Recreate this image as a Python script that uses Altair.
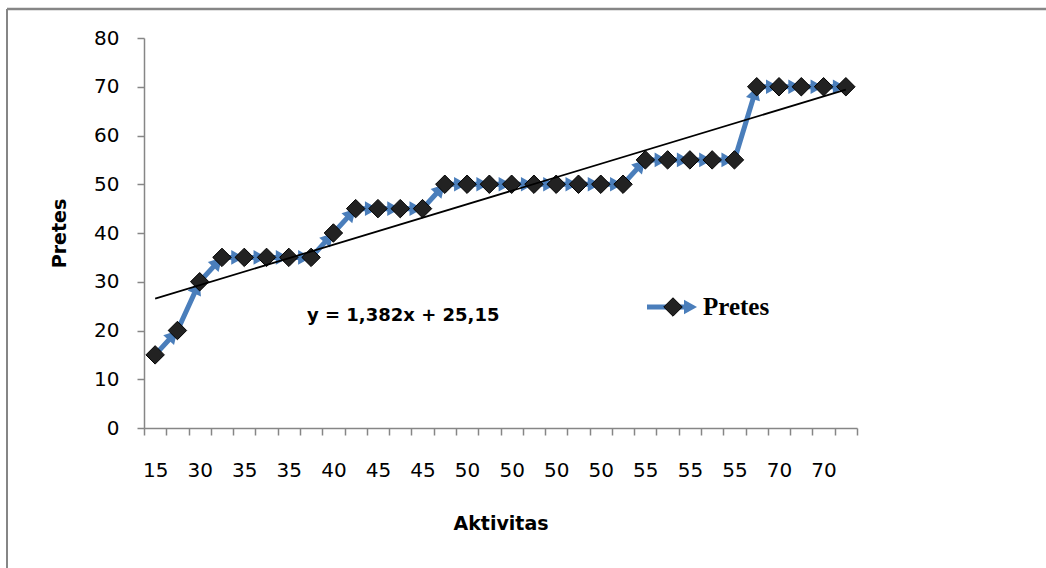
import json
import altair as alt
import pandas as pd

# ---- data ----
activity_index = list(range(1, 33))
pretes_values = [15, 20, 30, 35, 35, 35, 35, 35, 40, 45, 45, 45, 45, 50, 50, 50,
                 50, 50, 50, 50, 50, 50, 55, 55, 55, 55, 55, 70, 70, 70, 70, 70]
aktivitas_labels = ["15", "20", "30", "35", "35", "35", "35", "35", "40", "45", "45",
                    "45", "45", "50", "50", "50", "50", "50", "50", "50", "50", "50",
                    "55", "55", "55", "55", "55", "70", "70", "70", "70", "70"]
y_ticks = [0, 10, 20, 30, 40, 50, 60, 70, 80]
series_name = "Pretes"
equation_text = "y = 1,382x + 25,15"
x_title = "Aktivitas"
y_title = "Pretes"

# ---- layout / style ----
W, H = 713, 390
BLUE = "#4a7ebb"
GRAY = "#868686"
FONT = "DejaVu Sans"
ARROW = "M0,0 L-1,-0.56 L-1,0.56 Z"
ARROW_SIZE = 676      # custom path scaled by sqrt(size)/2 -> 13 px long
DIAMOND_SIZE = 340

df = pd.DataFrame({"idx": activity_index, "value": pretes_values})

n = len(activity_index)
x_scale = alt.Scale(domain=[0.5, n + 0.5], nice=False, zero=False)
y_scale = alt.Scale(domain=[y_ticks[0], y_ticks[-1]], nice=False)

tick_vals = [i / 2 for i in range(1, 2 * n + 2)]
labels_js = json.dumps(aktivitas_labels)

x_axis = alt.Axis(
    values=tick_vals, tickCount=500,
    labelExpr=f"(datum.value % 2 === 1) ? {labels_js}[datum.value - 1] : ''",
    tickOpacity={"condition": {"test": "datum.value % 1 === 0", "value": 0}, "value": 1},
    title=x_title, titleX=W / 2, titleY=101, titleBaseline="alphabetic",
    titleFont=FONT, titleFontSize=19, titleFontWeight="bold", titleColor="black",
    labelFont=FONT, labelFontSize=20, labelColor="black", labelPadding=25,
    labelOverlap=False, labelFlush=False, labelBound=False,
    domainColor=GRAY, domainWidth=1.5, tickColor=GRAY, tickWidth=1.5, tickSize=7,
    grid=False,
)
y_axis = alt.Axis(
    values=y_ticks,
    title=y_title, titleX=-79, titleY=H / 2, titleAngle=270, titleBaseline="alphabetic",
    titleAlign="center",
    titleFont=FONT, titleFontSize=19, titleFontWeight="bold", titleColor="black",
    labelFont=FONT, labelFontSize=20, labelColor="black", labelPadding=18,
    domainColor=GRAY, domainWidth=1.5, tickColor=GRAY, tickWidth=1.5, tickSize=7,
    grid=False,
)

base = alt.Chart(df)

line = base.mark_line(color=BLUE, strokeWidth=5).encode(
    x=alt.X("idx:Q", scale=x_scale, axis=x_axis),
    y=alt.Y("value:Q", scale=y_scale, axis=y_axis),
)

px_x = W / n
px_y = H / (y_ticks[-1] - y_ticks[0])
arrows = base.transform_window(
    window=[alt.WindowFieldDef(op="lag", field="value", **{"as": "prev"})],
    sort=[alt.SortField("idx")],
).transform_filter("datum.prev != null").transform_calculate(
    ang=f"(360 - atan2((datum.value - datum.prev) * {px_y}, {px_x}) * 180 / PI) % 360"
).mark_point(
    shape=ARROW, filled=True, color=BLUE, opacity=1, size=ARROW_SIZE
).encode(
    x=alt.X("idx:Q", scale=x_scale),
    y=alt.Y("value:Q", scale=y_scale),
    angle=alt.Angle("ang:Q", scale=None),
)

points = base.mark_point(
    shape="diamond", filled=True, fill="#222222", stroke="black", strokeWidth=1,
    opacity=1, size=DIAMOND_SIZE
).encode(
    x=alt.X("idx:Q", scale=x_scale),
    y=alt.Y("value:Q", scale=y_scale),
)

trend = base.transform_regression("idx", "value").mark_line(
    color="black", strokeWidth=1.8
).encode(
    x=alt.X("idx:Q", scale=x_scale),
    y=alt.Y("value:Q", scale=y_scale),
)

one = alt.Chart(pd.DataFrame({"eq": [equation_text], "name": [series_name]}))

eq_text = one.mark_text(
    align="left", baseline="alphabetic", font=FONT, fontSize=18, fontWeight="bold",
    color="black"
).encode(x=alt.value(163), y=alt.value(283), text="eq:N")

leg_line = one.mark_rule(color=BLUE, strokeWidth=5).encode(
    x=alt.value(503), x2=alt.value(546), y=alt.value(269)
)
leg_arrow = one.mark_point(
    shape=ARROW, filled=True, color=BLUE, opacity=1, size=ARROW_SIZE
).encode(x=alt.value(553), y=alt.value(269))
leg_diamond = one.mark_point(
    shape="diamond", filled=True, fill="#222222", stroke="black", strokeWidth=1,
    opacity=1, size=DIAMOND_SIZE
).encode(x=alt.value(529), y=alt.value(269))
leg_text = one.mark_text(
    align="left", baseline="alphabetic", font="Liberation Serif", fontSize=25,
    fontWeight="bold", color="black"
).encode(x=alt.value(559), y=alt.value(277), text="name:N")

border_left = one.mark_rule(color=GRAY, strokeWidth=2).encode(
    x=alt.value(-137), y=alt.value(-29), y2=alt.value(545)
)
border_top = one.mark_rule(color=GRAY, strokeWidth=2.5).encode(
    y=alt.value(-29), x=alt.value(-137), x2=alt.value(920)
)

chart = alt.layer(
    border_left, border_top, line, arrows, points, trend, eq_text,
    leg_line, leg_arrow, leg_diamond, leg_text
).properties(
    width=W, height=H,
    autosize=alt.AutoSizeParams(type="none"),
    padding={"left": 144, "top": 38, "right": 189, "bottom": 140},
    background="white",
).configure_view(stroke=None)

chart.save("out.html", embed_options={"renderer": "svg", "actions": False})
